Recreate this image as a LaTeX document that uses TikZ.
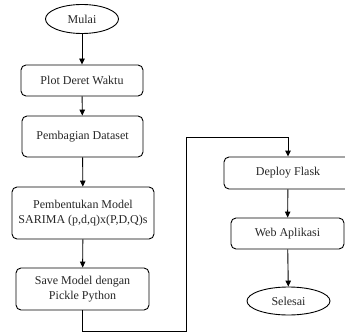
\documentclass[tikz,border=0pt]{standalone}
\usepackage{fontspec}
\setmainfont{Liberation Serif}
\usetikzlibrary{shapes.geometric,arrows.meta}
\begin{document}
\begin{tikzpicture}[x=1pt,y=-1pt,
  every node/.style={font=\fontsize{12}{15}\selectfont, text=black!85},
  proc/.style={draw, line width=0.9pt, rounded corners=5pt, align=center, inner sep=0pt},
  term/.style={draw, line width=0.9pt, ellipse, inner sep=0pt},
  flow/.style={draw, line width=0.9pt, -{Triangle[length=6pt,width=5.5pt]}}]
\useasboundingbox (0,0) rectangle (345,334);

% left column
\node[term, minimum width=73, minimum height=29] (mulai) at (82,19) {Mulai};
\node[proc, minimum width=122, minimum height=31] (plot) at (82,80.5) {Plot Deret Waktu};
\node[proc, minimum width=121, minimum height=41] (bagi) at (82.5,136.5) {Pembagian Dataset};
\node[proc, minimum width=142, minimum height=52] (bentuk) at (83,213) {Pembentukan Model\\SARIMA (p,d,q)x(P,D,Q)s};
\node[proc, minimum width=133, minimum height=42] (save) at (82.5,289) {Save Model dengan\\Pickle Python};

% right column
\node[proc, minimum width=128, minimum height=32] (deploy) at (288,173) {Deploy Flask};
\node[proc, minimum width=113, minimum height=31] (web) at (287.5,233.5) {Web Aplikasi};
\node[term, minimum width=83, minimum height=28] (selesai) at (288.5,301) {Selesai};

% bends of the connector between the columns
\coordinate (turnA) at (186,331);
\coordinate (turnB) at (186,137);

\draw[flow] (mulai) -- (plot);
\draw[flow] (plot) -- (bagi);
\draw[flow] (bagi) -- (bentuk);
\draw[flow] (bentuk) -- (save);
\draw[flow, rounded corners=0pt] (save.south) |- (turnA) -- (turnB) -| (deploy.north);
\draw[flow] (deploy) -- (web);
\draw[flow] (web) -- (selesai);
\end{tikzpicture}
\end{document}
